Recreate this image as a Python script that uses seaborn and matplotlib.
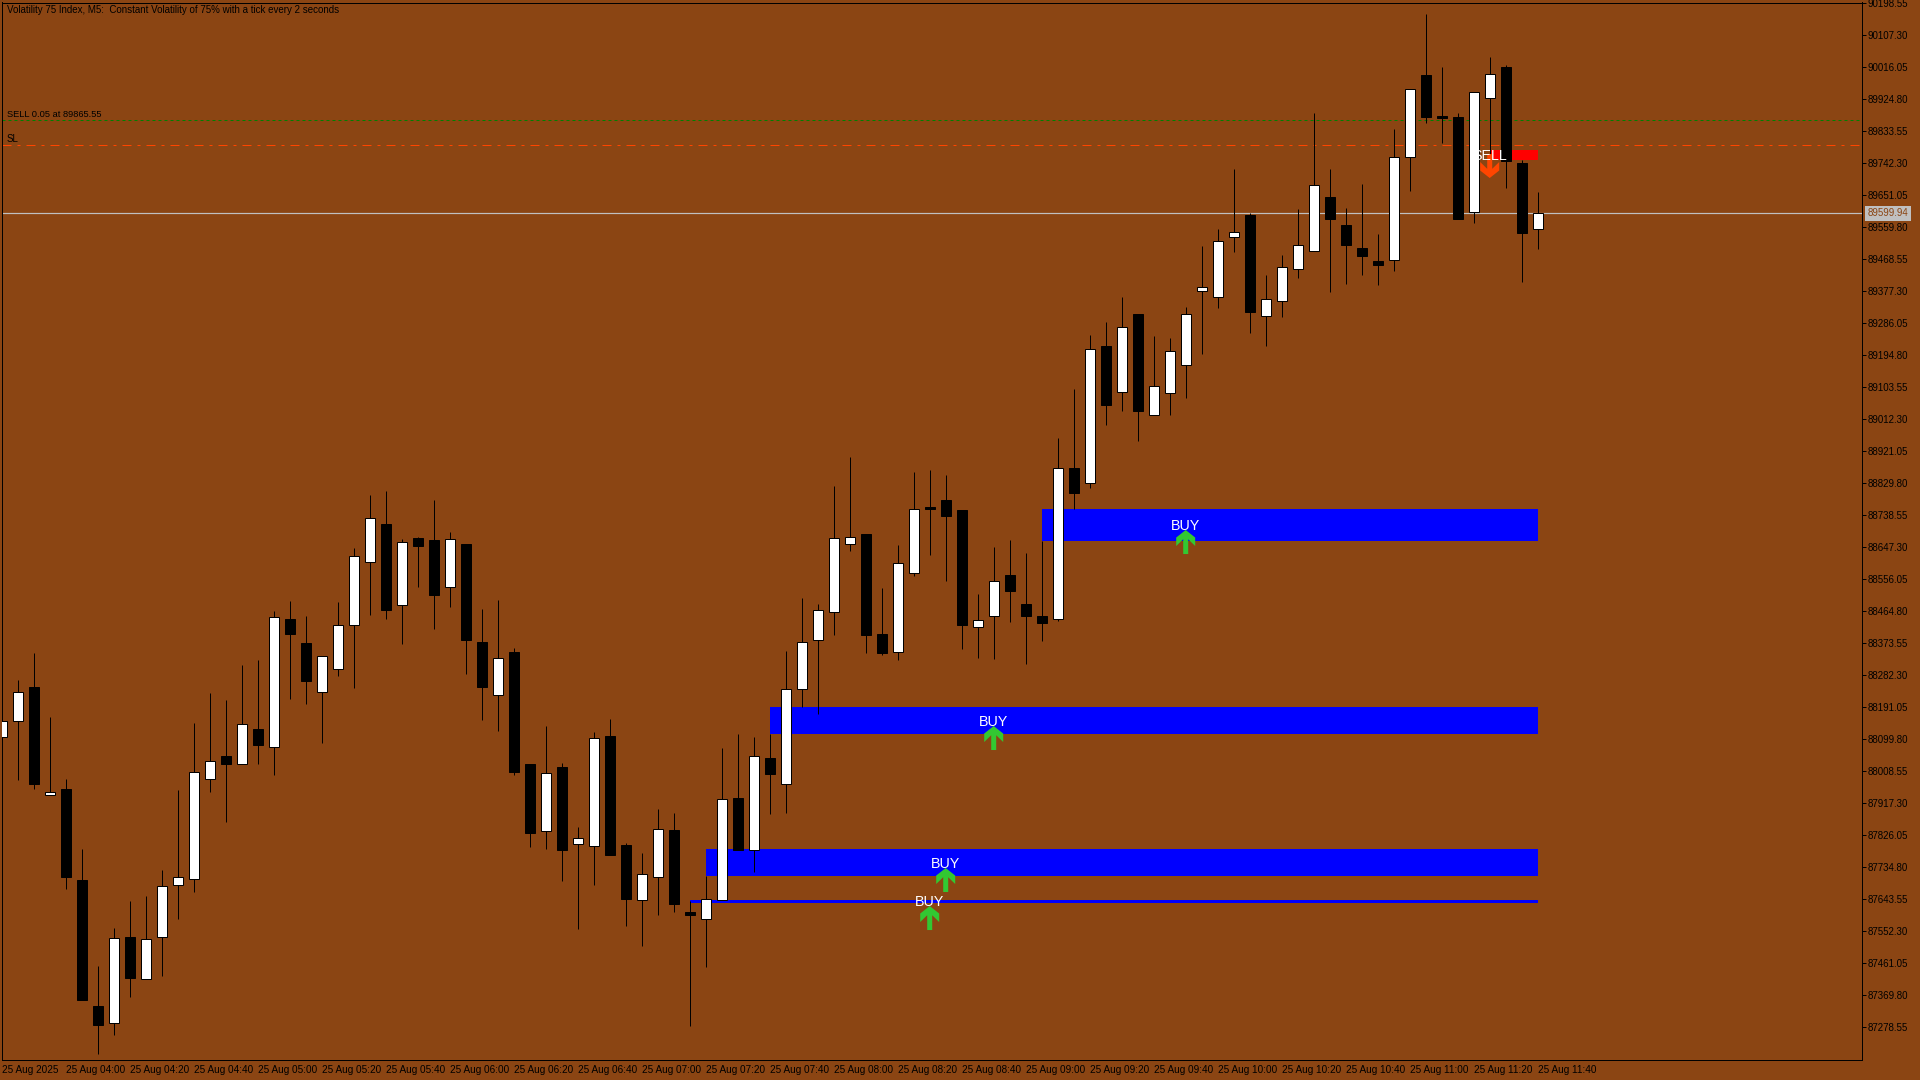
# MT5 style candlestick chart with buy zones, sell zone and trade lines.

import matplotlib

matplotlib.use("Agg")

import matplotlib.pyplot as plt
import numpy as np
import pandas as pd
import seaborn as sns
from matplotlib.path import Path

BROWN = "#8B4513"
ONE_PX = 0.72  # one pixel in points at dpi 100

opens = [
    88106.0, 88151.6, 88248.6, 87940.6, 87957.7, 87698.2, 87339.8, 87292.2, 87536.5, 87417.6,
    87535.7, 87684.0, 87701.1, 87986.2, 88052.7, 88029.0, 88129.7, 88079.2, 88443.4, 88374.9,
    88234.3, 88299.9, 88427.1, 88606.7, 88714.3, 88484.1, 88673.5, 88668.6, 88535.5, 88657.2,
    88376.9, 88227.5, 88349.3, 88029.9, 87839.7, 88021.3, 87802.6, 87796.9, 88109.7, 87798.9,
    87642.9, 87706.8, 87841.7, 87607.8, 87588.7, 87641.2, 87932.1, 87783.8, 88046.1, 87972.0,
    88242.9, 88382.6, 88462.5, 88656.4, 88685.7, 88400.6, 88348.4, 88573.7, 88762.7, 88782.7,
    88754.2, 88421.4, 88452.8, 88568.8, 88486.1, 88451.9, 88444.2, 88874.0, 88830.3, 89221.8,
    89089.8, 89313.1, 89024.2, 89087.0, 89168.5, 89379.5, 89362.4, 89533.5, 89595.4, 89308.3,
    89351.0, 89442.3, 89493.6, 89646.7, 89566.9, 89501.3, 89464.2, 89467.9, 89762.2, 89993.8,
    89876.9, 89874.9, 89603.1, 89928.2, 90016.6, 89743.7, 89556.3,
]
closes = [
    88151.6, 88234.3, 87973.7, 87949.2, 87708.5, 87357.7, 87286.4, 87532.8, 87420.5, 87530.0,
    87681.1, 87706.8, 88006.2, 88037.6, 88029.9, 88143.1, 88084.1, 88449.1, 88401.4, 88267.4,
    88337.0, 88425.4, 88622.2, 88730.5, 88469.9, 88662.1, 88652.4, 88512.6, 88670.6, 88384.3,
    88250.3, 88331.3, 88007.9, 87834.0, 88003.4, 87785.5, 87818.0, 88103.2, 87771.3, 87645.8,
    87715.3, 87843.7, 87631.5, 87600.1, 87644.1, 87929.2, 87785.5, 88051.8, 88002.2, 88242.9,
    88376.9, 88468.2, 88673.5, 88676.3, 88398.6, 88347.3, 88602.2, 88756.2, 88757.9, 88737.9,
    88427.1, 88439.7, 88550.9, 88524.0, 88452.8, 88432.8, 88873.1, 88803.5, 89212.4, 89054.5,
    89275.2, 89037.4, 89106.9, 89206.7, 89312.2, 89389.2, 89520.4, 89546.1, 89319.7, 89355.0,
    89446.3, 89509.0, 89680.1, 89584.9, 89510.7, 89479.3, 89452.8, 89759.9, 89953.9, 89875.7,
    89872.9, 89584.9, 89945.3, 89996.6, 89750.3, 89544.9, 89600.2,
]
highs = [
    88151.6, 88269.4, 88346.4, 88163.9, 87987.1, 87787.5, 87453.9, 87562.2, 87639.2, 87653.5,
    87727.6, 87955.7, 88146.8, 88232.3, 88212.4, 88312.2, 88326.4, 88466.2, 88494.7, 88451.9,
    88337.0, 88491.8, 88645.8, 88797.0, 88808.4, 88671.5, 88676.3, 88782.7, 88691.4, 88657.2,
    88471.9, 88497.5, 88360.7, 88029.9, 88138.2, 88032.7, 87850.2, 88121.1, 88158.2, 87804.6,
    87776.1, 87901.5, 87890.1, 87639.2, 87710.5, 88075.5, 88115.4, 88106.9, 88115.4, 88352.1,
    88503.2, 88486.1, 88822.6, 88905.3, 88685.7, 88531.8, 88654.4, 88862.5, 88868.2, 88854.0,
    88754.2, 88514.6, 88648.7, 88668.6, 88631.6, 88666.6, 88959.5, 89099.2, 89253.2, 89290.3,
    89361.6, 89313.1, 89250.4, 89244.7, 89333.1, 89507.0, 89555.5, 89726.6, 89601.1, 89424.3,
    89481.3, 89612.5, 89886.3, 89726.6, 89615.4, 89683.8, 89541.2, 89840.6, 89954.7, 90168.6,
    90017.4, 89886.3, 89945.3, 90046.0, 90023.1, 89752.2, 89661.0,
]
lows = [
    88106.0, 87984.3, 87959.5, 87940.6, 87674.3, 87357.7, 87203.8, 87257.9, 87366.3, 87417.6,
    87426.2, 87588.7, 87665.7, 87950.9, 87865.3, 88029.0, 88030.7, 87999.4, 88216.1, 88201.8,
    88090.6, 88281.7, 88247.4, 88455.6, 88444.2, 88372.9, 88535.5, 88415.7, 88478.5, 88287.4,
    88156.2, 88124.8, 87999.4, 87794.1, 87788.4, 87697.1, 87560.2, 87685.7, 87771.3, 87568.8,
    87510.9, 87600.1, 87608.7, 87283.6, 87451.9, 87641.2, 87785.5, 87722.8, 87888.2, 87891.0,
    88191.6, 88173.3, 88398.6, 88638.1, 88347.3, 88341.6, 88327.3, 88566.8, 88626.7, 88552.6,
    88358.6, 88333.0, 88330.1, 88435.7, 88315.9, 88381.5, 88437.7, 88756.2, 88817.8, 88997.4,
    89037.4, 88951.8, 89024.2, 89025.9, 89074.4, 89199.9, 89331.1, 89490.8, 89259.8, 89222.7,
    89305.4, 89416.6, 89493.6, 89376.7, 89399.5, 89425.2, 89396.6, 89436.6, 89664.7, 89858.6,
    89801.6, 89584.9, 89573.4, 89738.0, 89673.3, 89405.2, 89499.3,
]

# Rectangles drawn by the indicator, they all run to the last bar
zone_start_bars = [43, 44, 48, 65, 93]
zone_tops = [87642.1, 87787.5, 88192.4, 88757.0, 89780.8]
zone_bottoms = [87634.4, 87710.5, 88116.3, 88666.6, 89752.2]
zone_colors = ["#0000FF", "#0000FF", "#0000FF", "#0000FF", "#FF0000"]

buy_label_bars = [58, 59, 62, 74]
buy_label_prices = [87636.4, 87744.8, 88149.7, 88708.6]
buy_arrow_prices = [87590.7, 87699.1, 88104.0, 88662.9]
sell_bar = 93
sell_label_price = 89763.7
sell_arrow_price = 89735.1

order_price = 89865.55
stop_price = 89795.6
last_price = 89599.94

price_ticks = [
    90198.55, 90107.30, 90016.05, 89924.80, 89833.55, 89742.30, 89651.05, 89559.80, 89468.55,
    89377.30, 89286.05, 89194.80, 89103.55, 89012.30, 88921.05, 88829.80, 88738.55, 88647.30,
    88556.05, 88464.80, 88373.55, 88282.30, 88191.05, 88099.80, 88008.55, 87917.30, 87826.05,
    87734.80, 87643.55, 87552.30, 87461.05, 87369.80, 87278.55,
]
time_labels = [
    "25 Aug 2025", "25 Aug 04:00", "25 Aug 04:20", "25 Aug 04:40", "25 Aug 05:00",
    "25 Aug 05:20", "25 Aug 05:40", "25 Aug 06:00", "25 Aug 06:20", "25 Aug 06:40",
    "25 Aug 07:00", "25 Aug 07:20", "25 Aug 07:40", "25 Aug 08:00", "25 Aug 08:20",
    "25 Aug 08:40", "25 Aug 09:00", "25 Aug 09:20", "25 Aug 09:40", "25 Aug 10:00",
    "25 Aug 10:20", "25 Aug 10:40", "25 Aug 11:00", "25 Aug 11:20", "25 Aug 11:40",
]

# Arrow outline, tip up, centred on its marker position
UP_ARROW = Path(
    [(0, 12), (9.5, 4.5), (9.5, -4), (2.5, 2.8), (2.5, -12), (-2.5, -12),
     (-2.5, 2.8), (-9.5, -4), (-9.5, 4.5), (0, 12)],
    closed=True,
)
DOWN_ARROW = Path(UP_ARROW.vertices * [1, -1], closed=True)

sns.set_theme(style="white", rc={
    "axes.facecolor": BROWN,
    "figure.facecolor": BROWN,
    "axes.edgecolor": "black",
    "axes.linewidth": ONE_PX,
})
plt.rcParams["font.family"] = ["Liberation Sans"]

fig = plt.figure(figsize=(19.2, 10.8), dpi=100)
ax = fig.add_axes([1.7 / 1920, 1 - 1059.5 / 1080, 1860 / 1920, 1057 / 1080])

bars = np.arange(len(opens))
last_bar = bars[-1]
opens_arr = np.array(opens)
closes_arr = np.array(closes)

# Zones sit under everything else
for start, top, bottom, color in zip(zone_start_bars, zone_tops, zone_bottoms, zone_colors):
    ax.fill_between([start, last_bar], bottom, top, color=color, linewidth=0, zorder=1)

ax.axhline(order_price, color="#008000", lw=ONE_PX, linestyle=(0, (3, 3)), zorder=2)
ax.axhline(stop_price, color="#FF4500", lw=ONE_PX, linestyle=(0, (9, 6, 3, 6)), zorder=2)
ax.axhline(last_price, color="#C0C0C0", lw=ONE_PX * 1.2, zorder=2)

# Wicks as one two-point line per bar
wicks = pd.DataFrame({
    "bar": np.repeat(bars, 2),
    "price": np.column_stack([lows, highs]).ravel(),
})
sns.lineplot(
    data=wicks, x="bar", y="price", units="bar", estimator=None, sort=False,
    color="black", linewidth=ONE_PX, solid_capstyle="butt", legend=False, ax=ax, zorder=3,
)

body_colors = np.where(closes_arr > opens_arr, "white", "black")
body_bottoms = np.minimum(opens_arr, closes_arr)
ax.bar(
    bars, np.abs(closes_arr - opens_arr), bottom=body_bottoms, width=0.625,
    color=body_colors, edgecolor="black", linewidth=ONE_PX, zorder=4,
)

arrow_size = (24 * ONE_PX) ** 2
sns.scatterplot(
    x=buy_label_bars, y=buy_arrow_prices, marker=UP_ARROW, s=arrow_size,
    color="#32C832", edgecolor="none", linewidth=0, legend=False, ax=ax, zorder=5,
)
sns.scatterplot(
    x=[sell_bar], y=[sell_arrow_price], marker=DOWN_ARROW, s=arrow_size,
    color="#FF4500", edgecolor="none", linewidth=0, legend=False, ax=ax, zorder=5,
)

signal_font = {"size": 10.3, "color": "white", "ha": "center", "va": "center", "zorder": 6}
for bar, price in zip(buy_label_bars, buy_label_prices):
    ax.text(bar, price, "BUY", **signal_font)
ax.text(sell_bar, sell_label_price, "SELL", **signal_font)

ax.text(0.33, 89881.4, "SELL 0.05 at 89865.55", fontsize=6.7, color="black", va="center", zorder=6)
ax.text(0.33, 89813.0, "SL", fontsize=7, color="black", va="center", zorder=6)
fig.text(7 / 1920, 1 - 10 / 1080, "Volatility 75 Index, M5:  Constant Volatility of 75% with a tick every 2 seconds",
         fontsize=7, color="black", va="center")

ax.set_xlim(0, 1860 / 16)
ax.set_ylim(87187.30, 90201.40)
ax.set_xlabel("")
ax.set_ylabel("")
ax.set_xticks(bars[::4])
ax.set_xticklabels(time_labels, ha="left", fontsize=7.2, color="black")
ax.yaxis.tick_right()
ax.set_yticks(price_ticks)
ax.set_yticklabels([f"{p:.2f}" for p in price_ticks], fontsize=7, color="black")
ax.tick_params(axis="both", direction="out", length=3.2, width=ONE_PX, color="black", pad=1)

ax.annotate(
    f"{last_price:.2f}", xy=(1, last_price), xycoords=("axes fraction", "data"),
    xytext=(4.2, 0), textcoords="offset points", fontsize=7, color=BROWN, va="center",
    bbox={"boxstyle": "square,pad=0.25", "facecolor": "#C0C0C0", "edgecolor": "none"},
    annotation_clip=False,
)

fig.savefig("out.png", dpi=100, facecolor=BROWN)
plt.close(fig)
